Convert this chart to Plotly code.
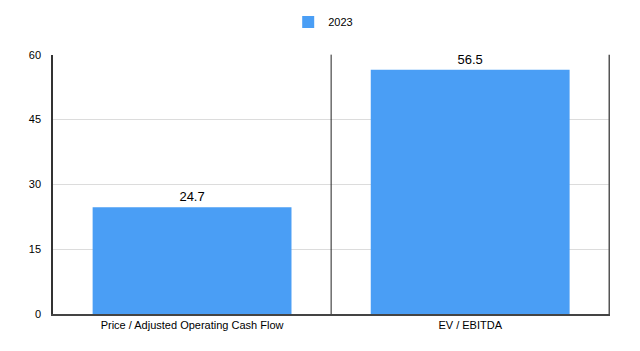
import plotly.graph_objects as go

categories = ["Price / Adjusted Operating Cash Flow", "EV / EBITDA"]
values_2023 = [24.7, 56.5]
y_ticks = [0, 15, 30, 45, 60]

fig = go.Figure()
fig.add_trace(go.Bar(
    x=categories, y=values_2023, name="2023",
    marker=dict(color="#4A9EF5", line=dict(width=0)),
    text=[f"{v}" for v in values_2023], textposition="outside",
    textfont=dict(size=13, color="#000000"), cliponaxis=False,
))

fig.update_layout(
    width=640, height=351,
    margin=dict(l=53, r=30, t=53, b=37),
    paper_bgcolor="white", plot_bgcolor="white",
    font=dict(family="Liberation Sans, Arial, sans-serif", size=11, color="#000"),
    bargap=0.285,
    showlegend=True,
    legend=dict(orientation="h", xref="container", yref="container",
                x=0.505, xanchor="center", y=1 - 22/351, yanchor="middle",
                font=dict(size=11)),
    xaxis=dict(showline=True, linecolor="#444", linewidth=1.5, showgrid=False,
               ticks="", tickfont=dict(size=11)),
    yaxis=dict(range=[0, 60], tickvals=y_ticks, showgrid=True, gridcolor="#dcdcdc",
               showline=True, linecolor="#333", linewidth=1.5, zeroline=False,
               ticks="", ticklabelstandoff=8, tickfont=dict(size=11)),
)
fig.add_shape(type="line", xref="x", yref="paper", x0=0.5, x1=0.5, y0=0, y1=1,
              line=dict(color="#222", width=1))
fig.add_shape(type="line", xref="x", yref="paper", x0=1.5, x1=1.5, y0=0, y1=1,
              line=dict(color="#555", width=1.5))
fig.write_html("out.html")
